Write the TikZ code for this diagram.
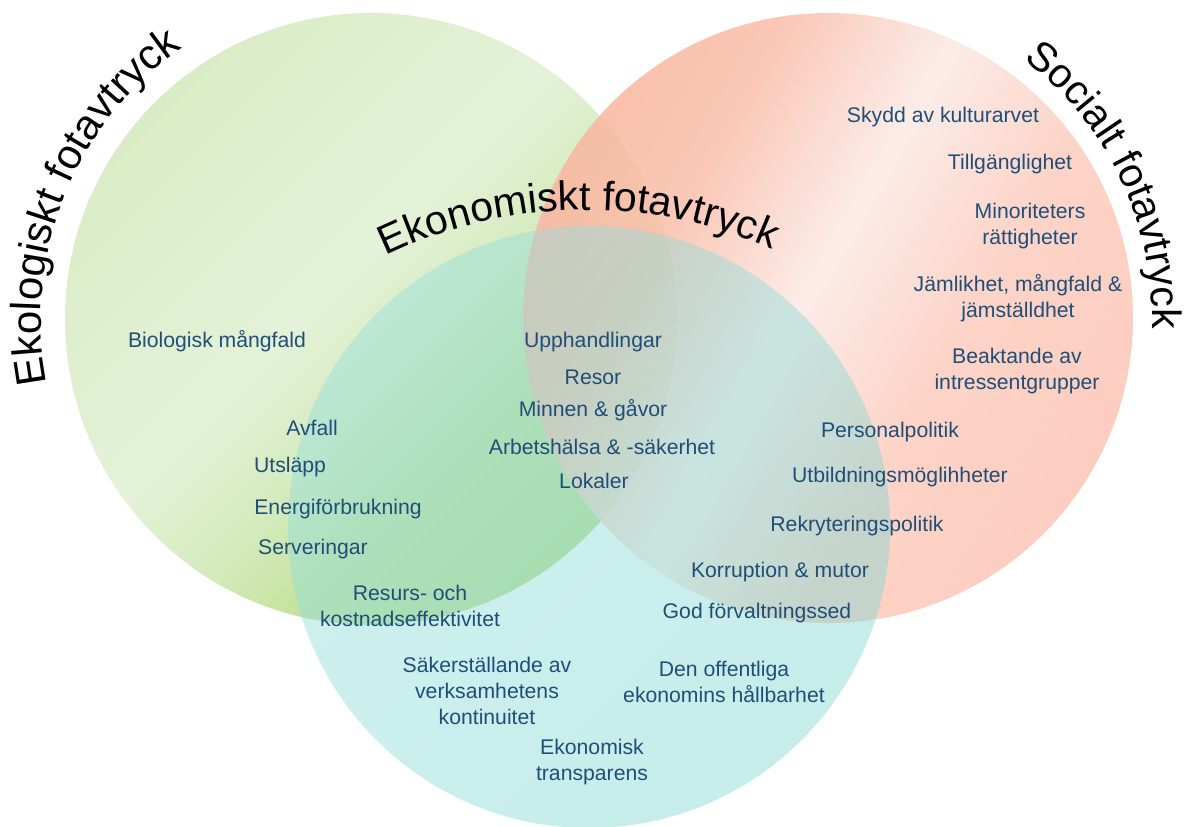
\documentclass[tikz,border=0pt]{standalone}
\usepackage{fontspec}
\setmainfont{Liberation Sans}
\usetikzlibrary{decorations.text}

\definecolor{itemblue}{RGB}{31,78,121}
% green (opaque)
\definecolor{gA}{RGB}{218,236,198}
\definecolor{gB}{RGB}{228,242,216}
\definecolor{gC}{RGB}{212,234,188}
\definecolor{gD}{RGB}{198,228,160}
\definecolor{gE}{RGB}{190,224,148}
% red (used at 0.9 opacity)
\definecolor{rA}{RGB}{249,184,162}
\definecolor{rB}{RGB}{250,194,175}
\definecolor{rC}{RGB}{252,234,229}
\definecolor{rD}{RGB}{252,207,193}
\definecolor{rE}{RGB}{252,200,185}
% cyan (used at 0.45 opacity)
\definecolor{cA}{RGB}{150,223,223}
\definecolor{cB}{RGB}{140,219,215}
\definecolor{cC}{RGB}{128,214,207}

\pgfdeclarehorizontalshading{greenshade}{100bp}{color(0bp)=(gA); color(25bp)=(gA); color(46bp)=(gB); color(55.5bp)=(gC); color(62bp)=(gD); color(75bp)=(gE); color(100bp)=(gE)}
\pgfdeclarehorizontalshading{redshade}{100bp}{color(0bp)=(rA); color(25bp)=(rA); color(35bp)=(rB); color(47.5bp)=(rC); color(60bp)=(rD); color(75bp)=(rE); color(100bp)=(rE)}
\pgfdeclarehorizontalshading{cyanshade}{100bp}{color(0bp)=(cA); color(25bp)=(cA); color(50bp)=(cB); color(75bp)=(cC); color(100bp)=(cC)}

\newcommand\itemfont{\fontsize{21.2}{26}\selectfont}
\newcommand\titlefont{\fontsize{41}{48}\selectfont}
\newcommand\ecotitlefont{\fontsize{42}{49}\selectfont}

\begin{document}
\begin{tikzpicture}[x=1pt,y=1pt,
  item/.style={text=itemblue, font=\itemfont, align=center, inner sep=0pt},
  titlepath/.style={decorate, decoration={text along path, text align=center, text={|\titlefont|#1}}},
  ecopath/.style={decorate, decoration={text along path, text align=center, text={|\ecotitlefont|#1}}}]
\useasboundingbox (0,0) rectangle (1184,-827);

% circles
\shade[shading=greenshade, shading angle=-45] (371,-319) circle[radius=306];
\shade[shading=redshade, shading angle=-30, fill opacity=0.9] (828,-318) circle[radius=305];
\shade[shading=cyanshade, shading angle=-45, fill opacity=0.45] (589,-527) circle[radius=301];

% curved titles
\path[ecopath={Ekologiskt fotavtryck}] (371,-319) ++(201:330) arc[start angle=201, end angle=115, radius=330];
\path[titlepath={Ekonomiskt fotavtryck}] (586,-670) ++(125:460) arc[start angle=125, end angle=57, radius=460];
\path[titlepath={Socialt fotavtryck}] (828,-318) ++(63:324) arc[start angle=63, end angle=-12, radius=324];

% ecological
\node[item] (bio) at (217,-341) {Biologisk mångfald};
\node[item] (avfall) at (312,-428) {Avfall};
\node[item] (utslapp) at (290,-467) {Utsläpp};
\node[item] (energi) at (338,-509) {Energiförbrukning};
\node[item] (servering) at (313,-549) {Serveringar};
\node[item] (resurs) at (410,-606) {Resurs- och\\kostnadseffektivitet};
% economic
\node[item] (sakerst) at (487,-691) {Säkerställande av\\verksamhetens\\kontinuitet};
\node[item] (transp) at (592,-762) {Ekonomisk\\transparens};
\node[item] (offentl) at (724,-682) {Den offentliga\\ekonomins hållbarhet};
\node[item] (godf) at (757,-613) {God förvaltningssed};
\node[item] (korr) at (780,-572) {Korruption \& mutor};
% centre
\node[item] (upph) at (593,-342) {Upphandlingar};
\node[item] (resor) at (593,-377) {Resor};
\node[item] (minnen) at (593,-410) {Minnen \& gåvor};
\node[item] (arbets) at (602,-447) {Arbetshälsa \& -säkerhet};
\node[item] (lokaler) at (594,-481) {Lokaler};
% social/economic
\node[item] (personal) at (890,-432) {Personalpolitik};
\node[item] (utbild) at (900,-477) {Utbildningsmöglihheter};
\node[item] (rekr) at (857,-526) {Rekryteringspolitik};
% social
\node[item] (skydd) at (943,-117) {Skydd av kulturarvet};
\node[item] (tillg) at (1010,-164) {Tillgänglighet};
\node[item] (minor) at (1030,-226) {Minoriteters\\rättigheter};
\node[item] (jamlik) at (1018,-298) {Jämlikhet, mångfald \&\\jämställdhet};
\node[item] (beakt) at (1017,-371) {Beaktande av\\intressentgrupper};
\end{tikzpicture}
\end{document}
